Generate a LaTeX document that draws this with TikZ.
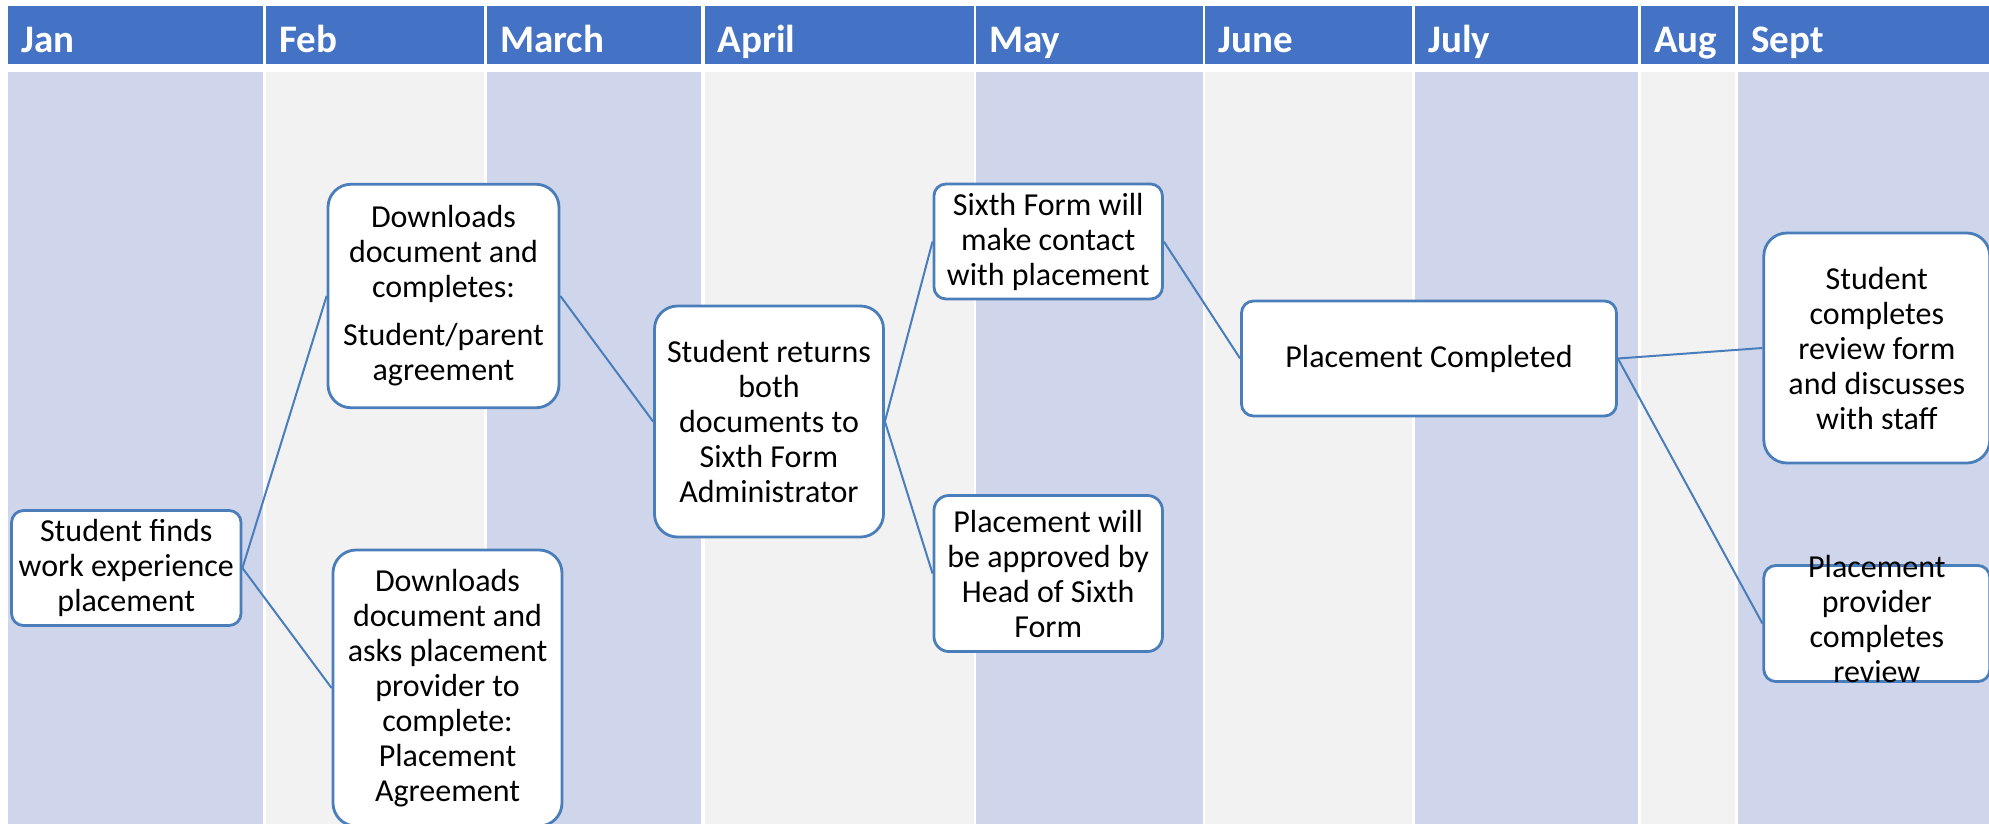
\documentclass[tikz,border=0pt]{standalone}
\usepackage{fontspec}
\setmainfont{Carlito}
\definecolor{hdrblue}{HTML}{4472C4}
\definecolor{bandlav}{HTML}{CFD5EA}
\definecolor{bandgray}{HTML}{F2F2F2}
\definecolor{edgeblue}{HTML}{4A7EBB}
\tikzset{
  hdrcell/.style={fill=hdrblue, draw=none},
  hdrtext/.style={anchor=base west, text=white, inner sep=0pt,
    font=\fontsize{39}{44}\selectfont\bfseries},
  stepbox/.style={draw=edgeblue, line width=2.8pt, fill=white, align=center,
    inner sep=0pt, text=black, font=\fontsize{32}{35}\selectfont},
  steptext/.style={align=center, inner sep=0pt, text=black,
    font=\fontsize{32}{35}\selectfont},
  link/.style={draw=edgeblue, line width=2pt}
}
\begin{document}
\begin{tikzpicture}[x=1pt,y=-1pt]
\useasboundingbox (0,0) rectangle (1989,823);
\clip (0,0) rectangle (1989,823);
\fill[white] (0,0) rectangle (1989,823);

% month columns: header cell, body band, label
\foreach \xl/\xr/\band/\lab [count=\i] in {
    8/263/bandlav/Jan, 266/484/bandgray/Feb, 487/701/bandlav/March,
    704.5/974/bandgray/April, 976/1203/bandlav/May, 1205/1412/bandgray/June,
    1415/1638/bandlav/July, 1641/1735/bandgray/Aug, 1738/1995/bandlav/Sept} {
  \fill[hdrblue] (\xl,6) rectangle (\xr,64);
  \fill[\band] (\xl,72) rectangle (\xr,830);
  \node[hdrtext] (m\i) at (\xl+13,52) {\lab};
}

% steps
\node[stepbox, minimum width=229.5pt, minimum height=115pt, rounded corners=12pt]
  (find) at (126.3,568) {Student finds\\work experience\\placement};
\node[stepbox, minimum width=231pt, minimum height=223.5pt, rounded corners=23pt]
  (parent) at (443.5,296) {Downloads\\document and\\completes:\\[13pt]Student/parent\\agreement};
\node[stepbox, minimum width=229pt, minimum height=276pt, rounded corners=23pt]
  (provider) at (447.5,688) {Downloads\\document and\\asks placement\\provider to\\complete:\\Placement\\Agreement};
\node[stepbox, minimum width=229pt, minimum height=231pt, rounded corners=23pt]
  (returns) at (769,421.5) {Student returns\\both\\documents to\\Sixth Form\\Administrator};
\node[stepbox, minimum width=228.5pt, minimum height=115pt, rounded corners=12pt]
  (contact) at (1048.2,241.5) {Sixth Form will\\make contact\\with placement};
\node[stepbox, minimum width=228.5pt, minimum height=156pt, rounded corners=15pt]
  (approved) at (1048.2,573.5) {Placement will\\be approved by\\Head of Sixth\\Form};
\node[stepbox, minimum width=375pt, minimum height=115pt, rounded corners=12pt]
  (completed) at (1429,358.5) {Placement Completed};
\node[stepbox, minimum width=226pt, minimum height=230pt, rounded corners=23pt]
  (studrev) at (1876.8,348) {Student\\completes\\review form\\and discusses\\with staff};
\node[stepbox, minimum width=226pt, minimum height=116pt, rounded corners=12pt]
  (provrev) at (1876.8,623.5) {};
\node[steptext] (provrevtext) at (1876.8,619) {Placement\\provider\\completes\\review};

% connectors
\draw[link] (find.east) -- (parent.west);
\draw[link] (find.east) -- (provider.west);
\draw[link] (parent.east) -- (returns.west);
\draw[link] (returns.east) -- (contact.west);
\draw[link] (returns.east) -- (approved.west);
\draw[link] (contact.east) -- (completed.west);
\draw[link] (completed.east) -- (studrev.west);
\draw[link] (completed.east) -- (provrev.west);
\end{tikzpicture}
\end{document}
